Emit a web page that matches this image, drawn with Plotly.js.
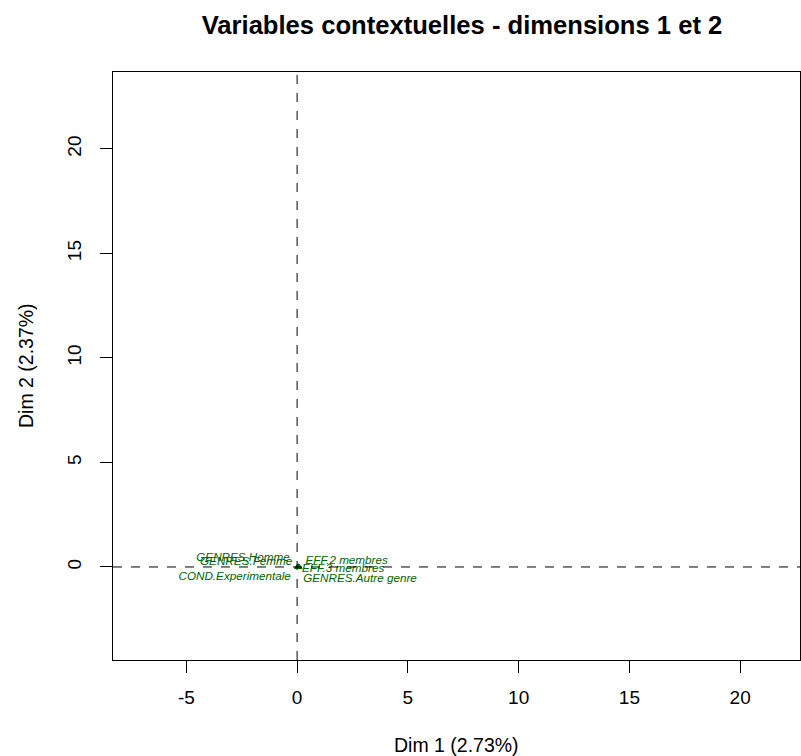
<!DOCTYPE html>
<html>
<head>
<meta charset="utf-8">
<script src="https://cdn.plot.ly/plotly-3.0.1.min.js"></script>
<style>
  html, body { margin: 0; padding: 0; background: #ffffff; }
  #chart { width: 801px; height: 756px; }
</style>
</head>
<body>
<div id="chart"></div>
<script>
// Modalities of the contextual variables (MCA, dimensions 1 and 2)
const categories = [
  "GENRES.Homme",
  "GENRES.Femme",
  "COND.Experimentale",
  "EFF.2 membres",
  "EFF.3 membres",
  "GENRES.Autre genre"
];

// Coordinates of the modalities on Dim 1 and Dim 2
const dim1 = [0.03, 0.02, 0.01, 0.08, 0.06, 0.10];
const dim2 = [0.02, 0.01, -0.02, 0.03, -0.01, -0.03];

// Where each modality's label sits (pushed away from the crowded origin)
const labelDim1 = [-2.44, -2.30, -2.82, 2.24, 2.08, 2.84];
const labelDim2 = [0.43, 0.24, -0.48, 0.29, -0.10, -0.57];

// Axis ticks
const xTicks = [-5, 0, 5, 10, 15, 20];
const xTickText = ["-5", "0", "5", "10", "15", "20"];
const yTicks = [0, 5, 10, 15, 20];
const yTickText = ["0", "5", "10", "15", "20"];

const green = "#006400";
const font = "Liberation Sans, Arial, sans-serif";

const points = {
  x: dim1,
  y: dim2,
  mode: "markers",
  type: "scatter",
  marker: { symbol: "triangle-up", size: 6, color: green },
  hoverinfo: "skip",
  showlegend: false
};

const labels = {
  x: labelDim1,
  y: labelDim2,
  text: categories.map(c => "<i>" + c + "</i>"),
  mode: "text",
  type: "scatter",
  textposition: "middle center",
  textfont: { family: font, size: 11.7, color: green },
  hoverinfo: "skip",
  showlegend: false
};

const axisCommon = {
  showgrid: false,
  zeroline: false,
  showline: true,
  mirror: true,
  linecolor: "#000000",
  linewidth: 1,
  ticks: "outside",
  ticklen: 12,
  tickwidth: 1,
  tickcolor: "#000000",
  tickfont: { family: font, size: 19, color: "#000000" },
  tickmode: "array",
  ticklabelstandoff: 8
};

const layout = {
  width: 801,
  height: 756,
  margin: { l: 113, r: 1, t: 72, b: 96 },
  paper_bgcolor: "#ffffff",
  plot_bgcolor: "#ffffff",
  title: {
    text: "<b>Variables contextuelles - dimensions 1 et 2</b>",
    font: { family: font, size: 25.6, color: "#000000" },
    xref: "paper",
    x: 0.508,
    xanchor: "center",
    yref: "container",
    y: 1 - 25 / 756,
    yanchor: "middle"
  },
  xaxis: Object.assign({}, axisCommon, {
    range: [-8.31, 22.7],
    tickvals: xTicks,
    ticktext: xTickText
  }),
  yaxis: Object.assign({}, axisCommon, {
    range: [-4.45, 23.68],
    tickvals: yTicks,
    ticktext: yTickText,
    tickangle: -90,
    ticklabelstandoff: 11
  }),
  annotations: [
    { text: "Dim 1 (2.73%)", xref: "paper", yref: "paper", x: 0.5, y: (660 - 745) / 588,
      xanchor: "center", yanchor: "middle", showarrow: false,
      font: { family: font, size: 19.5, color: "#000000" } },
    { text: "Dim 2 (2.37%)", xref: "paper", yref: "paper", x: (26 - 113) / 687, y: (660 - 366) / 588,
      xanchor: "center", yanchor: "middle", textangle: -90, showarrow: false,
      font: { family: font, size: 19.5, color: "#000000" } }
  ],
  shapes: [
    { type: "line", xref: "x", yref: "paper", x0: 0, x1: 0, y0: 0, y1: 1,
      line: { color: "#000000", width: 1, dash: "dash" } },
    { type: "line", xref: "paper", yref: "y", x0: 0, x1: 1, y0: 0, y1: 0,
      line: { color: "#000000", width: 1, dash: "dash" } }
  ]
};

Plotly.newPlot("chart", [points, labels], layout, { displayModeBar: false, staticPlot: true });
</script>
</body>
</html>
